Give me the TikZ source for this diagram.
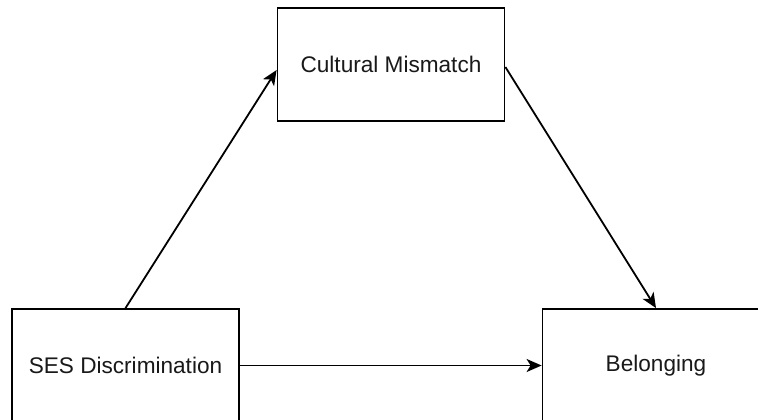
\documentclass[tikz,border=0pt]{standalone}
\usepackage{fontspec}
\setmainfont{Liberation Sans}
\usetikzlibrary{arrows.meta,calc}
\begin{document}
\begin{tikzpicture}[x=1pt,y=-1pt,
  box/.style={draw=black,line width=1.8pt,fill=white,minimum width=227pt,minimum height=113pt,inner sep=0pt,font=\fontsize{22.6}{26}\selectfont,text=black!90},
  conn/.style={line width=1.8pt,-{Stealth[length=15pt,width=13pt,inset=4pt]}}]
\useasboundingbox (0,0) rectangle (758,420);
\node[box] (cm) at (391,64.5) {Cultural Mismatch};
\node[box] (ses) at (125.5,365.5) {SES Discrimination};
\node[box] (bel) at (656,365.5) {Belonging};
\draw[conn] (ses.north) -- ($(cm.west)+(0,5.5)$);
\draw[conn] ($(cm.east)+(0,2.5)$) -- (bel.north);
\draw[conn] (ses.east) -- (bel.west);
\end{tikzpicture}
\end{document}
